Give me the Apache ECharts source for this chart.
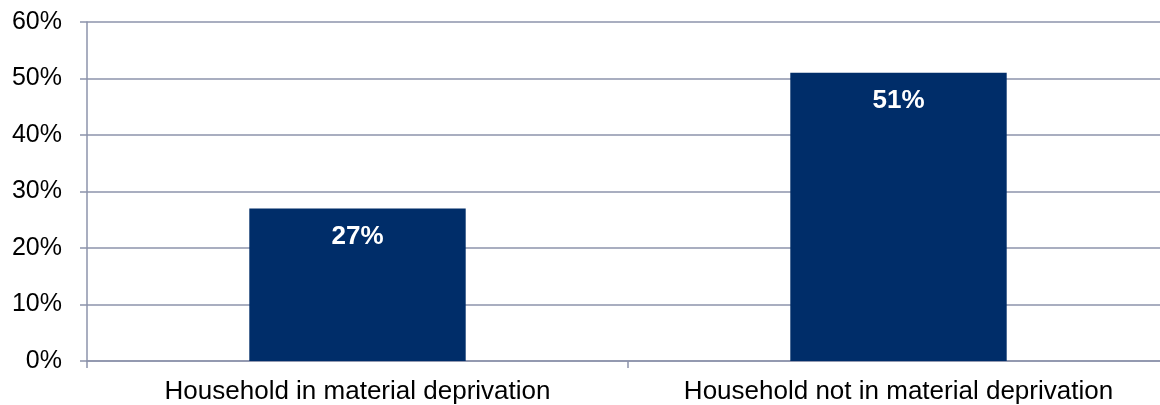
<!DOCTYPE html>
<html>
<head>
<meta charset="utf-8">
<script src="https://cdn.jsdelivr.net/npm/echarts@6/dist/echarts.min.js"></script>
<style>
  html, body { margin: 0; padding: 0; background: #fff; }
  #chart { width: 1160px; height: 405px; }
</style>
</head>
<body>
<div id="chart"></div>
<script>
const categories = ['Household in material deprivation', 'Household not in material deprivation'];
const shares = [27, 51];
const yTicks = [0, 10, 20, 30, 40, 50, 60];

const lineColor = '#8C93AB';
const font = '"Liberation Sans", Arial, sans-serif';

const chart = echarts.init(document.getElementById('chart'), null, { renderer: 'canvas' });
chart.setOption({
  animation: false,
  grid: { left: 87, top: 22, width: 1082, height: 339, containLabel: false, outerBoundsMode: 'none' },
  xAxis: {
    type: 'category',
    data: categories,
    axisLine: { show: true, lineStyle: { color: lineColor, width: 1.5 } },
    axisTick: { show: true, alignWithLabel: false, length: 7, lineStyle: { color: lineColor, width: 1.5 } },
    axisLabel: { color: '#000', fontFamily: font, fontSize: 26, margin: 18, interval: 0 },
    splitLine: { show: false }
  },
  yAxis: {
    type: 'value',
    min: yTicks[0],
    max: yTicks[yTicks.length - 1],
    interval: 10,
    axisLine: { show: true, lineStyle: { color: lineColor, width: 1.5 } },
    axisTick: { show: true, length: 7, lineStyle: { color: lineColor, width: 1.5 } },
    axisLabel: { color: '#000', fontFamily: font, fontSize: 25, margin: 25, formatter: v => v + '%' },
    splitLine: { show: true, lineStyle: { color: lineColor, width: 1.5 } }
  },
  series: [{
    type: 'bar',
    data: shares,
    barWidth: '40%',
    itemStyle: { color: '#002D69' },
    label: {
      show: true,
      position: 'insideTop',
      distance: 15,
      color: '#fff',
      fontFamily: font,
      fontWeight: 'bold',
      fontSize: 26,
      formatter: p => p.value + '%'
    }
  }]
});
</script>
</body>
</html>
